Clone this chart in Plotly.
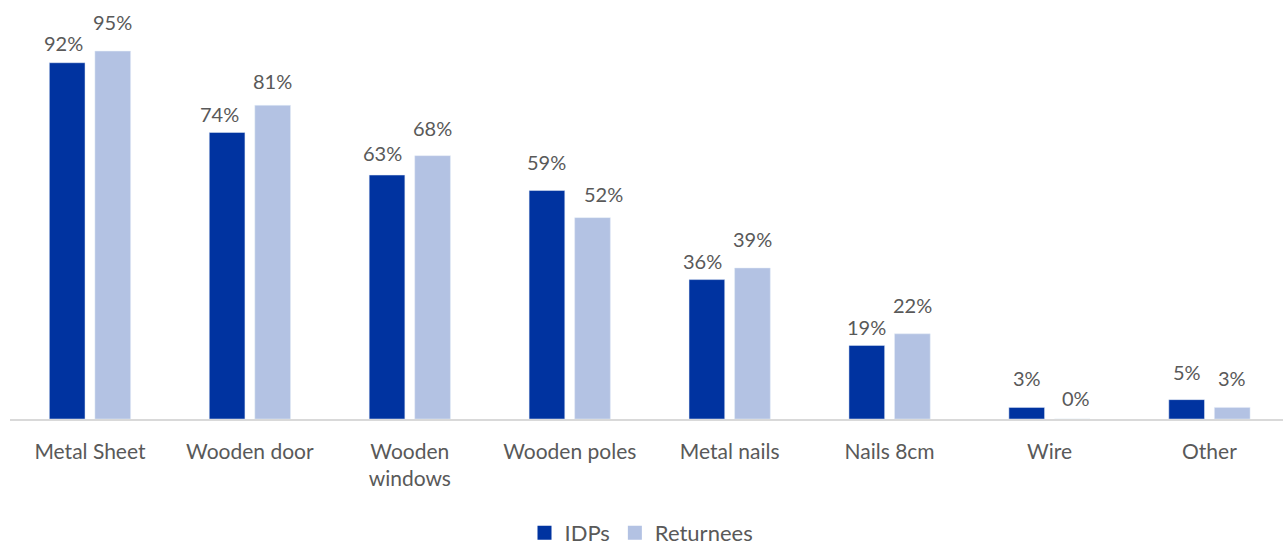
import plotly.graph_objects as go

categories = ["Metal Sheet", "Wooden door", "Wooden<br>windows", "Wooden poles",
              "Metal nails", "Nails 8cm", "Wire", "Other"]
idps = [92, 74, 63, 59, 36, 19, 3, 5]
returnees = [95, 81, 68, 52, 39, 22, 0, 3]

# hand-placed value label nudges (pixels): horizontal shift and gap above the bar
idps_label_dx = [-4, -7.5, -5, 0, -4, 0, 0, 0]
idps_label_gap = [10, 8, 12, 19, 9, 8, 19, 18]
returnees_label_dx = [0, 0, 0, 11, 0, 0, 3.5, 0]
returnees_label_gap = [19, 14, 18, 14, 19, 19, 11, 19]

TEXT = "#595959"
FONT = "Lato"
IDP_COLOR = "#0033A0"
RET_COLOR = "#B3C2E3"
SLOT = 0.285  # bar centre offset from the category centre, in category units

fig = go.Figure()
fig.add_trace(go.Bar(name="IDPs", x=categories, y=idps, marker_color=IDP_COLOR,
                     showlegend=False))
fig.add_trace(go.Bar(name="Returnees", x=categories, y=returnees, marker_color=RET_COLOR,
                     showlegend=False))

# legend entries with square swatches
for name, color in (("IDPs", IDP_COLOR), ("Returnees", RET_COLOR)):
    fig.add_trace(go.Scatter(x=[None], y=[None], mode="markers", name=name,
                             marker=dict(symbol="square", size=14, color=color)))

# value labels above each bar
for vals, off, dxs, gaps in ((idps, -SLOT / 2, idps_label_dx, idps_label_gap),
                             (returnees, SLOT / 2, returnees_label_dx, returnees_label_gap)):
    for i, v in enumerate(vals):
        fig.add_annotation(
            x=i + off, y=v, xref="x", yref="y", text=f"{v}%", showarrow=False,
            yanchor="bottom", xshift=dxs[i], yshift=gaps[i] - 4,
            font=dict(size=20, color=TEXT, family=FONT),
        )

fig.update_layout(
    width=1283, height=546,
    margin=dict(l=9.5, r=0, t=0, b=127),
    paper_bgcolor="white", plot_bgcolor="white",
    barmode="group", bargap=0.43, bargroupgap=0.217,
    font=dict(family=FONT, size=20, color=TEXT),
    showlegend=True,
    legend=dict(orientation="h", x=0.5, xanchor="center", xref="container",
                y=0.024, yanchor="middle", yref="container",
                font=dict(size=22, color=TEXT), itemwidth=30, traceorder="normal"),
    xaxis=dict(range=[-0.5, 7.46], showline=True, linecolor="#D9D9D9", linewidth=1.5,
               ticks="outside", ticklen=13, tickcolor="rgba(0,0,0,0)",
               tickfont=dict(size=21, color=TEXT, family=FONT), showgrid=False),
    yaxis=dict(range=[0, 108.2], visible=False, showgrid=False, zeroline=False),
)

fig.write_html("out.html")
